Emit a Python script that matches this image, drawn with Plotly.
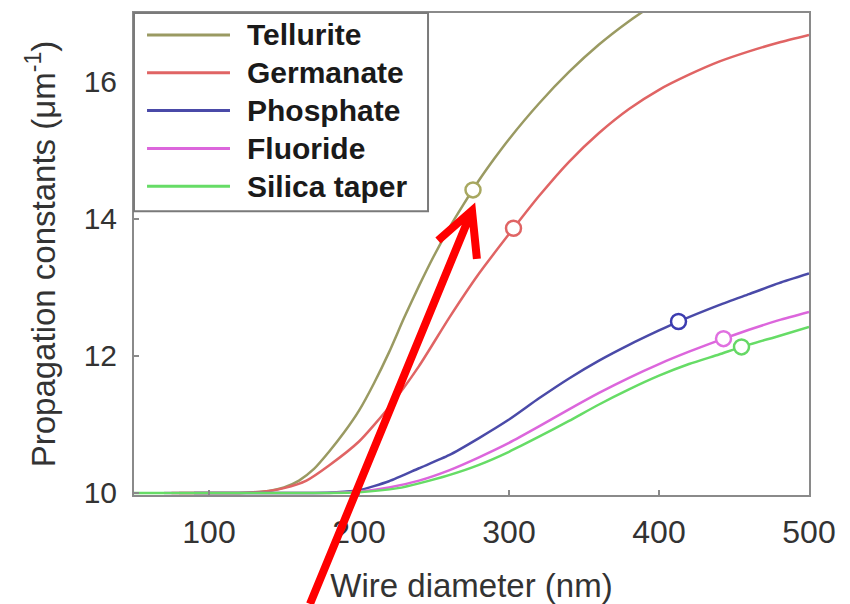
import plotly.graph_objects as go

# ---------------- data ----------------
series_names = ["Tellurite", "Germanate", "Phosphate", "Fluoride", "Silica taper"]

tellurite_x = [80, 100, 120, 130, 140, 150, 160, 170, 180, 190, 200, 210, 220, 230, 240, 250, 260, 270, 280, 290, 300, 320, 340, 360, 380, 400]
tellurite_y = [10.0, 10.0, 10.0, 10.01, 10.03, 10.08, 10.18, 10.35, 10.6, 10.88, 11.2, 11.6, 12.05, 12.55, 13.02, 13.46, 13.86, 14.22, 14.56, 14.87, 15.16, 15.68, 16.14, 16.54, 16.88, 17.18]

germanate_x = [75, 100, 120, 130, 140, 150, 165, 180, 200, 220, 240, 260, 280, 303, 320, 340, 360, 380, 400, 420, 440, 460, 480, 500]
germanate_y = [10.0, 10.0, 10.0, 10.01, 10.03, 10.07, 10.18, 10.4, 10.75, 11.25, 11.85, 12.55, 13.2, 13.86, 14.33, 14.83, 15.25, 15.6, 15.88, 16.1, 16.29, 16.44, 16.57, 16.68]

phosphate_x = [90, 150, 170, 185, 200, 220, 240, 260, 280, 300, 320, 340, 360, 380, 400, 413, 440, 460, 480, 500]
phosphate_y = [10.0, 10.0, 10.0, 10.01, 10.04, 10.17, 10.36, 10.55, 10.8, 11.07, 11.38, 11.67, 11.93, 12.16, 12.37, 12.5, 12.74, 12.9, 13.06, 13.2]

fluoride_x = [70, 150, 180, 200, 220, 240, 260, 280, 300, 320, 340, 360, 380, 400, 420, 443, 460, 480, 500]
fluoride_y = [10.0, 10.0, 10.0, 10.02, 10.08, 10.18, 10.33, 10.52, 10.73, 10.97, 11.22, 11.46, 11.68, 11.88, 12.06, 12.25, 12.38, 12.52, 12.64]

silica_x = [50, 150, 180, 200, 226, 240, 260, 280, 300, 320, 340, 360, 380, 400, 420, 440, 455, 480, 500]
silica_y = [10.0, 10.0, 10.0, 10.01, 10.07, 10.14, 10.26, 10.41, 10.6, 10.82, 11.05, 11.29, 11.51, 11.71, 11.88, 12.02, 12.13, 12.29, 12.42]

# highlighted points (open circles)
marker_x = [276, 303, 413, 443, 455]
marker_y = [14.42, 13.86, 12.5, 12.25, 12.13]

x_ticks = [100, 200, 300, 400, 500]
y_ticks = [10, 12, 14, 16]

# ---------------- styles ----------------
colors = ["#9a9a62", "#e06464", "#4a4aa8", "#dc66dc", "#66dc66"]
marker_colors = ["#a8a860", "#e06464", "#3c3cb0", "#e070e0", "#66d866"]
xs = [tellurite_x, germanate_x, phosphate_x, fluoride_x, silica_x]
ys = [tellurite_y, germanate_y, phosphate_y, fluoride_y, silica_y]

FONT = "Liberation Sans, Arial, Helvetica, sans-serif"

fig = go.Figure()
for name, x, y, c in zip(series_names, xs, ys, colors):
    fig.add_trace(go.Scatter(
        x=x, y=y, mode="lines", name=name, showlegend=False,
        line=dict(color=c, width=2.5, shape="spline", smoothing=0.6),
    ))

for i in range(len(series_names)):
    fig.add_trace(go.Scatter(
        x=[marker_x[i]], y=[marker_y[i]], mode="markers", showlegend=False,
        marker=dict(size=15, color="white", symbol="circle",
                    line=dict(color=marker_colors[i], width=2.5)),
    ))

# ---------------- legend box (drawn manually) ----------------
leg_x0, leg_x1, leg_y0, leg_y1 = 0.0, 0.4356, 0.5888, 1.0
fig.add_shape(type="rect", xref="paper", yref="paper",
              x0=leg_x0, x1=leg_x1, y0=leg_y0, y1=leg_y1,
              fillcolor="white", line=dict(color="#7a7a7a", width=2), layer="above")
leg_rows = [0.9545, 0.876, 0.7975, 0.719, 0.6405]
for name, c, yy in zip(series_names, colors, leg_rows):
    fig.add_shape(type="line", xref="paper", yref="paper",
                  x0=0.0193, x1=0.1422, y0=yy, y1=yy,
                  line=dict(color=c, width=3), layer="above")
    fig.add_annotation(xref="paper", yref="paper", x=0.1644, y=yy,
                       text=f"<b>{name}</b>", showarrow=False,
                       xanchor="left", yanchor="middle",
                       font=dict(family=FONT, size=30, color="#1a1a1a"))

# red arrow overlay (paper coordinates)
tail = (0.2607, -0.226)
tip = (0.5007, 0.590)
wing_l = (0.4504, 0.528)
wing_r = (0.508, 0.490)
path = (f"M{tail[0]},{tail[1]} L{tip[0]},{tip[1]} "
        f"M{wing_l[0]},{wing_l[1]} L{tip[0]},{tip[1]} L{wing_r[0]},{wing_r[1]}")
fig.add_shape(type="path", path=path, xref="paper", yref="paper",
              line=dict(color="#ff0000", width=8), layer="above")

axis_common = dict(
    showline=True, linecolor="#8a8a8a", linewidth=2, mirror=True,
    ticks="inside", ticklen=5, tickwidth=1.5, tickcolor="#8a8a8a",
    showgrid=False, zeroline=False,
)

fig.update_xaxes(
    range=[50, 500], tickvals=x_ticks, ticktext=[str(v) for v in x_ticks],
    tickfont=dict(family=FONT, size=32, color="#333333"),
    ticklabelstandoff=8,
    title=dict(text="Wire diameter (nm)", font=dict(family=FONT, size=33, color="#333333"), standoff=25),
    **axis_common,
)
fig.update_yaxes(
    range=[9.97, 17.0], tickvals=y_ticks, ticktext=[str(v) for v in y_ticks],
    tickfont=dict(family=FONT, size=30, color="#333333"),
    ticklabelstandoff=9,
    title=dict(text="Propagation constants (μm<sup>-1</sup>)", font=dict(family=FONT, size=33, color="#333333"), standoff=18),
    **axis_common,
)

# page body has an 8px margin: figure occupies 842x596 starting at (8, 8)
fig.update_layout(
    width=842, height=596,
    margin=dict(l=126, r=41, t=3, b=109),
    paper_bgcolor="white", plot_bgcolor="white",
    showlegend=False,
)

fig.write_html("out.html")
